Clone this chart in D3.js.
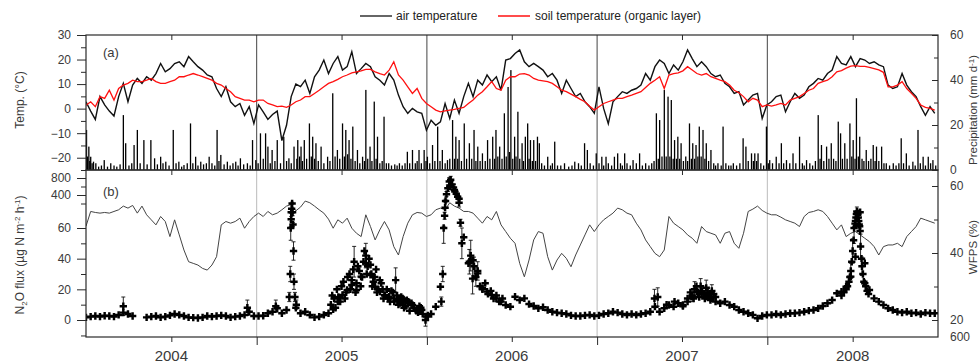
<!DOCTYPE html>
<html><head><meta charset="utf-8">
<script src="https://cdn.jsdelivr.net/npm/d3@7"></script>
<style>body{margin:0;background:#fff;} svg{display:block;font-family:"Liberation Sans",Arial,sans-serif;}</style>
</head><body><svg id="c" width="980" height="364"></svg>
<script>
// ---------------- DATA ----------------
const years = ["2004","2005","2006","2007","2008"];
const stepDays = 10; // series below are sampled every 10 days from 2004-01-01
const airTemp = [2.8,-1.0,-4.4,4.9,1.5,-1.0,-3.0,4.9,10.3,2.8,
 9.6,12.3,10.3,13.0,11.6,14.3,18.4,15.0,16.3,18.4,
 19.1,17.1,21.2,19.1,17.1,15.7,13.7,13.0,8.2,4.9,
 8.9,2.8,0.8,2.1,-2.7,0.8,-6.1,1.5,-1.3,-4.4,
 -2.4,-1.0,-13.0,-6.8,4.9,10.0,9.0,11.6,6.2,13.0,
 15.7,19.8,14.3,18.4,21.2,15.7,17.1,23.2,14.3,16.3,
 18.4,17.1,13.0,11.6,9.6,14.3,11.6,5.5,0.8,-1.9,
 0.1,-1.3,-1.9,-8.8,-4.7,-6.8,-5.4,2.1,-4.0,3.5,
 -1.9,4.9,10.3,4.9,11.6,9.6,13.7,11.0,13.0,7.5,
 19.8,20.4,22.5,23.9,19.1,17.1,18.4,17.1,15.7,13.0,
 14.3,11.6,6.2,11.6,8.2,4.9,6.2,2.8,0.8,-1.9,
 8.9,0.1,-6.1,2.8,4.9,6.9,6.2,7.5,8.2,9.6,
 14.3,11.6,17.1,19.8,18.4,14.3,17.8,15.7,19.1,23.9,
 20.4,17.1,19.1,17.1,14.3,13.0,13.7,10.3,8.9,6.2,
 6.9,1.5,3.5,5.5,6.2,-4.0,1.5,2.8,4.9,5.5,
 -1.3,2.8,6.2,4.2,5.5,8.9,10.3,12.3,11.6,14.3,
 15.7,21.2,18.4,17.8,21.2,17.1,20.4,19.8,18.4,19.1,
 17.8,17.1,9.6,8.2,8.9,14.3,9.6,6.9,4.9,0.8,
 -2.7,0.8,-1.9];
const soilTemp = [1.4,2.8,0.8,4.9,4.2,7.5,3.5,8.2,9.6,10.3,
 11.6,11.0,11.0,11.6,12.3,11.0,10.3,10.3,11.0,11.6,
 13.0,13.0,13.7,14.3,13.7,13.0,12.3,11.6,10.3,9.6,
 8.2,6.9,4.9,4.2,3.5,3.5,2.8,3.5,3.5,2.1,
 1.5,0.8,1.0,0.5,1.5,2.8,3.5,4.9,4.9,6.2,
 7.5,8.9,10.3,11.0,11.9,13.0,13.7,14.6,15.0,15.4,
 16.0,16.0,15.0,14.3,13.7,15.7,19.1,13.7,11.6,8.9,
 6.2,8.2,4.2,2.1,0.8,-0.6,-1.3,-0.9,-0.6,-0.3,
 0.1,0.5,2.1,3.5,5.5,6.9,8.9,11.0,8.2,7.5,
 11.6,13.0,13.0,14.1,14.3,13.7,12.3,11.6,11.3,11.0,
 10.3,8.9,7.5,6.9,5.9,4.9,3.8,2.8,1.0,-0.6,
 0.8,2.1,2.8,3.5,4.2,4.2,4.9,5.5,6.2,6.9,
 8.6,10.3,11.6,13.0,8.2,13.7,14.3,14.6,15.4,17.1,
 15.7,14.3,13.7,14.3,13.0,12.3,11.6,11.0,9.6,7.5,
 6.5,4.9,2.8,4.2,3.5,0.8,1.5,1.0,1.5,2.1,
 1.5,3.5,4.2,4.9,6.2,7.5,8.2,10.3,11.0,11.6,
 13.0,15.0,15.5,16.5,17.3,17.5,17.2,17.2,16.8,16.3,
 15.8,14.8,8.9,8.9,9.6,11.0,8.2,6.2,4.2,1.5,
 0.5,0.1,-0.6];
const wfps = [48,52.4,52.1,51.9,52.1,51.9,52.4,52.9,54.0,53.4,
 54.2,51.9,54.0,51.4,49.9,48.4,50.9,49.4,44.9,49.9,
 45.4,40.9,37.4,36.9,36.4,35.4,34.9,36.4,38.9,48.4,
 49.4,48.9,49.4,50.4,47.4,49.4,50.9,51.9,50.9,52.4,
 51.4,51.9,52.9,54.0,54.5,52.6,53.7,55.5,55.0,54.0,
 52.9,51.9,50.1,47.4,49.9,48.9,50.4,47.4,45.9,44.9,
 51.4,47.9,43.9,46.9,49.4,46.9,41.9,39.4,44.9,48.9,
 51.4,52.1,51.9,50.9,51.4,52.9,53.4,52.9,55.0,54.0,
 53.4,52.4,52.4,51.9,50.4,48.9,50.9,49.9,52.4,48.4,
 46.4,44.4,42.9,36.9,32.9,37.9,43.9,46.4,45.9,38.9,
 34.9,37.9,39.9,38.4,35.9,39.4,42.4,45.4,48.4,46.4,
 48.4,49.9,50.9,51.9,53.4,52.9,51.9,51.4,48.9,46.9,
 43.9,41.9,39.9,38.9,40.9,50.9,48.9,47.9,46.9,45.4,
 44.4,42.9,47.9,46.4,45.9,45.4,42.9,45.9,46.4,42.9,
 41.4,45.9,52.4,53.1,54.0,52.7,51.9,51.4,51.4,50.7,
 49.9,49.4,48.9,47.9,50.9,52.1,52.4,52.9,52.4,50.9,
 48.9,46.9,48.4,44.9,45.9,46.4,45.4,44.4,43.4,41.9,
 39.4,41.9,42.4,42.4,42.9,41.9,44.9,46.4,47.9,50.4,
 49.9,49.4,48.9];
const n2o = [1.7,2.2,2.6,2.2,2.8,2.6,2.2,3.3,4.8,3.9,
 2.6,null,null,1.7,2.2,2.6,1.7,2.2,3.0,3.9,
 3.3,2.6,1.7,1.5,1.3,1.7,2.6,2.2,2.6,3.0,
 2.6,1.7,2.2,2.6,3.3,5.4,2.6,2.6,2.8,4.4,
 5.4,7.6,4.4,6.5,150,8,4.4,5.4,3.3,1.7,
 2.2,3.3,4.4,7.0,12.0,16.3,19.6,22.8,19.6,28.3,
 37.0,29.4,21.7,18.5,16.3,15.2,14.1,13.0,12.0,10.9,
 9.8,7.6,6.5,2.2,3.9,8.7,21.7,176,600,518,
 314,54,37,39,30.4,20.7,18.5,16.3,14.1,12.0,
 9.8,8.7,15.2,13.0,14.1,10.4,9.1,7.6,8.3,6.5,
 5.4,4.8,4.4,3.9,3.0,2.6,2.6,3.0,3.3,2.6,
 3.0,3.9,4.4,5.4,4.8,3.9,3.3,3.9,3.3,3.9,
 4.4,5.4,8.7,5.4,7.6,9.8,8.7,10.9,9.8,12.0,
 15.2,18.5,17.4,15.2,14.1,12.0,10.9,12.0,9.8,8.7,
 6.5,5.4,4.4,3.3,1.1,2.6,3.3,3.3,3.9,3.3,
 3.9,4.4,4.4,4.8,5.4,6.1,6.5,7.6,9.1,10.9,
 13.0,17.4,18.5,21.7,28.3,41.3,150,37,19.6,14.1,
 12.0,9.8,7.6,6.5,5.4,4.8,5.4,4.4,4.8,3.9,
 4.8,4.4,4.4];
// additional individual flux measurements: [day since 2004-01-01, flux, error]
const n2oExtra = [[80,9,6],[346,8,5],[407,9,4],
 [436,15,3],[438,30,5],[439,60,8],[440,110,15],[441,170,25],[442,200,30],[443,150,20],[444,80,10],[445,45,6],[446,25,5],[448,15,3],[451,10,3],
 [525,10,0],[532,14,0],[538,20,0],[545,12,0],[552,25,0],[558,18,0],[565,30,0],[570,26,0],[575,38,10],[580,24,0],[586,32,0],[592,28,0],[597,45,0],[600,42,8],[604,35,0],[607,40,0],[612,30,0],[616,25,0],[622,33,0],[627,20,0],[633,24,0],[638,14,0],[645,20,0],[652,12,0],[658,18,0],[664,26,8],[670,10,0],[676,15,0],[682,8,0],[688,13,0],[694,6,0],[698,11,0],[712,5,0],[718,8,0],[728,0,4],
 [528,16,0],[535,8,0],[541,15,0],[548,22,0],[555,14,0],[561,28,0],[567,20,0],[573,33,0],[578,18,0],[583,35,0],[589,22,0],[595,38,0],[602,30,0],[610,36,0],[614,22,0],[619,28,0],[624,18,0],[630,26,0],[636,20,0],[641,16,0],[648,14,0],[655,19,0],[661,12,0],[667,16,0],[673,11,0],[679,14,0],[685,9,0],[691,12,0],[703,8,0],[708,6,0],[715,9,0],[722,4,0],[733,3,0],
 [762,12,3],[765,30,5],[767,60,10],[769,130,20],[771,260,40],[773,420,60],[776,560,80],[779,720,90],[782,760,80],[785,650,80],[788,580,70],[791,480,60],[794,430,50],[797,360,50],[800,220,40],[803,90,20],[806,50,10],
 [822,38,8],[825,42,10],[829,27,10],[832,35,6],[836,28,6],[840,32,6],[845,22,0],[850,20,0],[856,24,0],[862,17,0],[868,19,0],[874,14,0],[880,16,0],[886,12,0],[893,14,0],
 [1219,14,6],[1226,15,6],[1245,10,0],[1262,12,0],[1280,9,0],[1290,14,0],[1300,16,4],[1305,20,5],[1312,18,0],[1318,22,5],[1324,17,0],[1330,21,5],[1336,16,0],[1342,19,4],[1350,15,0],
 [1296,18,0],[1303,14,0],[1309,22,0],[1315,15,0],[1321,19,0],[1327,14,0],[1333,18,0],[1339,13,0],[1346,17,0],
 [1630,20,0],[1636,25,0],[1640,32,5],[1644,45,8],[1647,60,10],[1649,85,15],[1651,120,20],[1653,155,25],[1655,140,20],[1657,100,15],[1659,70,10],[1661,48,8],[1664,35,6],[1668,25,0],[1672,22,0],[1678,17,0],
 [1620,16,0],[1625,18,0],[1633,22,0],[1638,28,0],[1642,38,0],[1646,52,0],[1650,100,0],[1652,140,0],[1654,150,0],[1656,120,0],[1658,80,0],[1660,58,0],[1663,40,0],[1666,30,0],[1670,24,0],[1675,19,0]];
// precipitation events: [day since 2004-01-01, mm/day]
const precip = [[1,17.8],[3,6],[6,10.4],[8,4],[10,5.9],[13,3],[16,3.7],[21,3],[27,1.5],[33,2],[39,4.4],[46,1.5],[53,3],[60,2],[66,1.5],[73,2.5],[80,24.4],[85,11.9],[92,2],[98,3],[103,11.1],[110,17.8],[116,3],[124,13.3],[131,2.5],[139,13.3],[147,5.2],[153,2.5],[160,5.9],[165,3],[171,3.7],[178,2],[187,17.8],[193,3],[199,3.7],[205,1.5],[210,2.2],[217,3],[224,20.7],[229,3],[235,5.9],[240,2],[246,3.7],[252,2.5],[258,3],[264,5.9],[270,3],[276,2],[281,17.8],[285,4],[289,6.7],[296,2.5],[303,3.7],[309,2],[315,3],[321,3.7],[326,2],[331,5.2],[338,2.5],[346,3],[352,2],[357,13.3],[364,4.4],
 [369,3],[374,16.3],[380,5],[385,16.3],[390,10.4],[395,3],[399,8.9],[405,4],[410,13.3],[417,3],[424,14.8],[430,4],[435,5.2],[440,3],[446,10.4],[452,5],[454,13.3],[458,6],[461,10.4],[464,4],[468,13.3],[473,5],[479,20.7],[483,6],[486,14.8],[490,5],[493,11.9],[498,4],[504,10.4],[510,3],[518,5.9],[523,4],[529,34.1],[534,6],[539,8.9],[544,5],[550,20.7],[554,6],[557,17.8],[561,7],[564,13.3],[568,5],[572,19.3],[577,4],[582,8.9],[587,3],[593,5.9],[597,4],[600,35.6],[604,5],[609,10.4],[613,4],[618,30.4],[622,5],[625,14.8],[630,3],[635,4],[639,23.7],[644,3],[649,3],[655,2],[662,2.5],[667,2],[672,3],[678,2],[684,3],[689,8.1],[694,3],[700,8.9],[706,3],[710,4],[714,8.9],[719,3],[725,8.9],[729,4],[732,5.9],
 [737,3],[743,11.1],[748,4],[754,19.3],[759,4],[764,8.9],[770,3],[775,4.4],[780,5],[786,22.2],[790,5],[793,14.8],[797,5],[800,13.3],[805,4],[811,20.7],[816,5],[822,11.9],[827,5],[832,17.8],[836,4],[840,10.4],[845,4],[850,7.4],[856,4],[861,13.3],[866,5],[872,14.8],[876,5],[879,17.8],[883,6],[887,10.4],[892,5],[897,25.2],[901,6],[905,36.9],[908,8],[911,44.4],[915,5],[919,14.8],[922,6],[926,25.9],[930,5],[935,11.9],[938,4],[942,14.8],[947,20.7],[950,5],[953,13.3],[957,4],[960,13.3],[964,4],[968,14.8],[972,11.9],[977,3],[983,2],[990,5.9],[996,2],[1000,3],[1005,12.6],[1011,2],[1018,2],[1026,3],[1035,1.5],[1042,2],[1048,3.7],[1056,3],[1062,2],[1069,11.9],[1075,8.9],[1081,3],[1088,2],[1094,7.4],
 [1100,3],[1106,5.9],[1110,2],[1115,5.9],[1120,3],[1127,2],[1133,5.9],[1140,7.4],[1146,3],[1150,2],[1155,7.4],[1160,3],[1167,2],[1173,4.4],[1180,3],[1187,7.4],[1193,2],[1200,3],[1207,2],[1213,3],[1218,4],[1223,25.2],[1227,5],[1230,22.2],[1235,6],[1240,35.6],[1244,6],[1248,32.6],[1252,6],[1255,31.1],[1259,5],[1262,13.3],[1266,5],[1269,14.8],[1273,5],[1276,11.9],[1281,4],[1286,6],[1290,4],[1294,20.7],[1298,5],[1301,11.9],[1305,5],[1308,11.1],[1312,6],[1315,19.3],[1319,6],[1323,17.8],[1327,5],[1330,11.9],[1335,4],[1340,8.9],[1346,3],[1350,2],[1355,3],[1362,2],
 [1366,19.3],[1372,3],[1378,2],[1383,2],[1388,3],[1395,2],[1402,3],[1409,14.1],[1415,10.4],[1420,4],[1427,7.4],[1431,4],[1434,7.4],[1438,4],[1441,7.4],[1447,3],[1453,2],[1459,19.3],[1463,3],[1466,4.4],[1472,3],[1480,5.9],[1486,3],[1491,11.9],[1496,3],[1502,4.4],[1509,3],[1516,7.4],[1522,3],[1530,14.8],[1536,3],[1540,2],[1545,4.4],[1552,3],[1558,2],[1564,4],[1570,24.4],[1574,5],[1577,11.1],[1582,4],[1588,10.4],[1593,5],[1598,11.9],[1603,5],[1608,4],[1613,21.5],[1618,16.3],[1622,5],[1627,11.9],[1632,5],[1638,20.7],[1642,6],[1645,13.3],[1649,5],[1652,31.9],[1656,6],[1659,14.8],[1664,5],[1668,4],[1673,8.9],[1678,4],[1683,5],[1688,11.1],[1692,4],[1695,10.4],[1700,4],[1706,10.4],[1711,3],[1716,3],[1723,2],[1731,3],[1737,2],[1743,3],[1748,14.1],[1753,3],[1759,7.4],[1765,2],[1773,3.7],[1778,2],[1784,17.8],[1789,3],[1795,5.9],[1800,2],[1806,5.9],[1811,3],[1816,4.4],[1822,2]];
const tempTicks = [-20,-10,0,10,20,30];
const tempMinor = [-25,-15,-5,5,15,25];
const precipTicks = [0,20,40,60];
const precipMinor = [10,30,50];
const fluxTicks = [0,20,40,60,400,800];
const fluxMinor = [-10,10,30,50,200,600];
const wfpsTicks = [20,40,60];
const wfpsMinor = [30,50];
const extraRightLabel = "600";

// ---------------- LAYOUT ----------------
const svg = d3.select("#c");
const L = 86, R = 938, aTop = 35, aBot = 170, bBot = 337;
const T0 = Date.UTC(2004,0,1);
const dayDate = d => new Date(T0 + d*864e5);
const x = d3.scaleUtc().domain([new Date(T0), new Date(Date.UTC(2009,0,1))]).range([L, R]);
const yT = d3.scaleLinear().domain([-25,30]).range([aBot,aTop]);
const yP = d3.scaleLinear().domain([0,60]).range([aBot,aTop]);
const yF = d3.scaleLinear().domain([-11,0,60,200,400,800,1000]).range([bBot,320,228,203.5,195,178,169.5]);
const yW = d3.scaleLinear().domain([20,60]).range([320,186]);
const ink = "#2a2a2a", txt = "#3a3a3a";

const defs = svg.append("defs");
defs.append("clipPath").attr("id","ca").append("rect").attr("x",L).attr("y",aTop).attr("width",R-L).attr("height",aBot-aTop);
defs.append("clipPath").attr("id","cb").append("rect").attr("x",L).attr("y",aBot).attr("width",R-L).attr("height",bBot-aBot);

// year separators
const bounds = years.slice(1).map(y => new Date(Date.UTC(+y,0,1)));
svg.append("g").selectAll("line").data(bounds).join("line")
  .attr("x1",d=>x(d)).attr("x2",d=>x(d)).attr("y1",aTop).attr("y2",aBot)
  .attr("stroke","#444").attr("stroke-width",1);
svg.append("g").selectAll("line").data(bounds).join("line")
  .attr("x1",d=>x(d)).attr("x2",d=>x(d)).attr("y1",aBot).attr("y2",bBot)
  .attr("stroke","#bbb").attr("stroke-width",1);

// ---- panel a
const ga = svg.append("g").attr("clip-path","url(#ca)");
ga.selectAll("rect.p").data(precip).join("rect").attr("class","p")
  .attr("x",d=>x(dayDate(d[0]))-0.6).attr("width",1.3)
  .attr("y",d=>yP(d[1])).attr("height",d=>yP(0)-yP(d[1])).attr("fill","#000");
const series = arr => arr.map((v,i)=>({d:dayDate(i*stepDays), v}));
const lineT = d3.line().defined(p=>p.v!=null).x(p=>x(p.d)).y(p=>yT(p.v));
ga.append("path").datum(series(airTemp)).attr("d",lineT).attr("fill","none").attr("stroke","#111").attr("stroke-width",1.4);
ga.append("path").datum(series(soilTemp)).attr("d",lineT).attr("fill","none").attr("stroke","#ff1010").attr("stroke-width",1.3);

// ---- panel b
const gb = svg.append("g").attr("clip-path","url(#cb)");
const lineW = d3.line().x(p=>x(p.d)).y(p=>yW(p.v));
gb.append("path").datum(series(wfps)).attr("d",lineW).attr("fill","none").attr("stroke","#444").attr("stroke-width",1);
const flux = series(n2o).filter(p=>p.v!=null).map(p=>({d:p.d,v:p.v,e:0}))
  .concat(n2oExtra.map(r=>({d:dayDate(r[0]),v:r[1],e:r[2]})));
const eb = flux.filter(p=>p.e>0);
gb.append("g").selectAll("path").data(eb).join("path")
  .attr("d",p=>{const X=x(p.d),y1=yF(p.v-p.e),y2=yF(p.v+p.e);return `M${X},${y1}V${y2}M${X-2},${y1}H${X+2}M${X-2},${y2}H${X+2}`;})
  .attr("stroke","#111").attr("stroke-width",0.9).attr("fill","none");
const sym = d3.symbol().type(d3.symbolCross).size(30);
gb.append("g").selectAll("path").data(flux).join("path")
  .attr("transform",p=>`translate(${x(p.d)},${yF(p.v)})`).attr("d",sym).attr("fill","#000");

// frames
svg.append("rect").attr("x",L).attr("y",aTop).attr("width",R-L).attr("height",aBot-aTop).attr("fill","none").attr("stroke",ink).attr("stroke-width",1.2);
svg.append("rect").attr("x",L).attr("y",aBot).attr("width",R-L).attr("height",bBot-aBot).attr("fill","none").attr("stroke",ink).attr("stroke-width",1.2);

// axes helpers
function styleAxis(g, fs){
  g.select(".domain").remove();
  g.selectAll("line").attr("stroke",ink);
  g.selectAll("text").attr("fill",txt).attr("font-size",fs).attr("font-family","Liberation Sans, Arial, sans-serif");
}
svg.append("g").attr("transform",`translate(${L},0)`).call(d3.axisLeft(yT).tickValues(tempTicks).tickSize(9).tickPadding(6)).call(g=>styleAxis(g,12));
svg.append("g").attr("transform",`translate(${L},0)`).call(d3.axisLeft(yT).tickValues(tempMinor).tickSize(5).tickFormat("")).call(g=>styleAxis(g,12));
svg.append("g").attr("transform",`translate(${L},0)`).call(d3.axisLeft(yF).tickValues(fluxTicks).tickSize(9).tickPadding(6)).call(g=>styleAxis(g,12));
svg.append("g").attr("transform",`translate(${L},0)`).call(d3.axisLeft(yF).tickValues(fluxMinor).tickSize(5).tickFormat("")).call(g=>styleAxis(g,12));
svg.append("g").attr("transform",`translate(${R},0)`).call(d3.axisRight(yP).tickValues(precipTicks).tickSize(-6).tickPadding(12)).call(g=>styleAxis(g,12));
svg.append("g").attr("transform",`translate(${R},0)`).call(d3.axisRight(yP).tickValues(precipMinor).tickSize(-4).tickFormat("")).call(g=>styleAxis(g,12));
svg.append("g").attr("transform",`translate(${R},0)`).call(d3.axisRight(yW).tickValues(wfpsTicks).tickSize(-6).tickPadding(12)).call(g=>styleAxis(g,12));
svg.append("g").attr("transform",`translate(${R},0)`).call(d3.axisRight(yW).tickValues(wfpsMinor).tickSize(-4).tickFormat("")).call(g=>styleAxis(g,12));
svg.append("text").attr("x",R+12).attr("y",bBot+4).attr("font-size",12).attr("fill",txt).text(extraRightLabel);

// bottom / top time ticks
const mids = years.map(y => new Date(Date.UTC(+y,6,2)));
svg.append("g").attr("transform",`translate(0,${bBot})`).call(d3.axisBottom(x).tickValues(bounds).tickSize(8).tickFormat("")).call(g=>styleAxis(g,12));
svg.append("g").attr("transform",`translate(0,${bBot})`).call(d3.axisBottom(x).tickValues(mids).tickSize(5).tickFormat("")).call(g=>styleAxis(g,12));
svg.append("g").attr("transform",`translate(0,${aBot})`).call(d3.axisBottom(x).tickValues(mids).tickSize(5).tickFormat("")).call(g=>styleAxis(g,12));
svg.append("g").attr("transform",`translate(0,${aTop})`).call(d3.axisBottom(x).tickValues(mids).tickSize(5).tickFormat("")).call(g=>styleAxis(g,12));
svg.append("g").selectAll("text").data(years).join("text")
  .attr("x",(y,i)=>x(mids[i])).attr("y",361).attr("text-anchor","middle")
  .attr("font-size",15).attr("fill",txt).text(d=>d);

// panel labels
svg.append("text").attr("x",103).attr("y",57).attr("font-size",13).attr("fill",txt).text("(a)");
svg.append("text").attr("x",103).attr("y",196).attr("font-size",13).attr("fill",txt).text("(b)");

// axis titles
svg.append("text").attr("transform","translate(24,100) rotate(-90)").attr("text-anchor","middle").attr("font-size",12).attr("fill",txt).text("Temp. (°C)");
const nt = svg.append("text").attr("transform","translate(24,255) rotate(-90)").attr("text-anchor","middle").attr("font-size",12).attr("fill",txt);
nt.append("tspan").text("N");
nt.append("tspan").attr("font-size",8).attr("dy",3).text("2");
nt.append("tspan").attr("dy",-3).text("O flux (µg N m");
nt.append("tspan").attr("font-size",8).attr("dy",-4).text("-2");
nt.append("tspan").attr("dy",4).text(" h");
nt.append("tspan").attr("font-size",8).attr("dy",-4).text("-1");
nt.append("tspan").attr("dy",4).text(")");
const pt = svg.append("text").attr("transform","translate(977,110) rotate(-90)").attr("text-anchor","middle").attr("font-size",11.5).attr("fill",txt);
pt.append("tspan").text("Precipitation (mm d");
pt.append("tspan").attr("font-size",8).attr("dy",-3).text("-1");
pt.append("tspan").attr("dy",3).text(")");
svg.append("text").attr("transform","translate(977,247) rotate(-90)").attr("text-anchor","middle").attr("font-size",11.5).attr("fill",txt).text("WFPS (%)");

// legend
const lg = svg.append("g");
lg.append("line").attr("x1",360).attr("x2",392).attr("y1",16).attr("y2",16).attr("stroke","#333").attr("stroke-width",1.5);
lg.append("text").attr("x",396).attr("y",20).attr("font-size",12).attr("fill","#222").text("air temperature");
lg.append("line").attr("x1",498).attr("x2",530).attr("y1",16).attr("y2",16).attr("stroke","#ff1010").attr("stroke-width",1.5);
lg.append("text").attr("x",535).attr("y",20).attr("font-size",12).attr("fill","#222").text("soil temperature (organic layer)");
</script></body></html>
